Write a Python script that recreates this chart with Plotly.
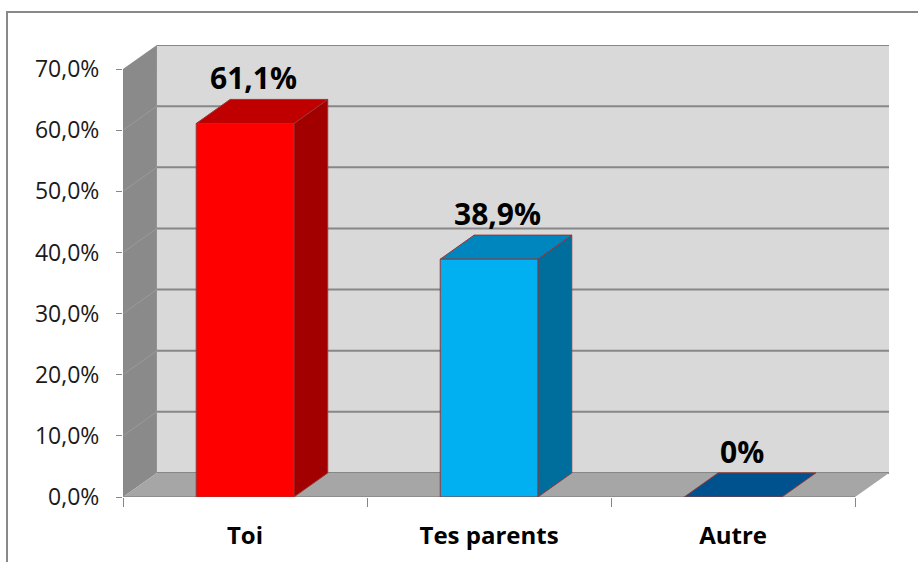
import plotly.graph_objects as go

# ---------------- data ----------------
categories = ["Toi", "Tes parents", "Autre"]
values = [61.1, 38.9, 0.0]
value_labels = ["61,1%", "38,9%", "0%"]
y_ticks = [0, 10, 20, 30, 40, 50, 60, 70]
y_tick_labels = ["0,0%", "10,0%", "20,0%", "30,0%", "40,0%", "50,0%", "60,0%", "70,0%"]

# ---------------- style ----------------
front_colors = ["#FF0000", "#00B0F0", "#0070C0"]
top_colors = ["#C00000", "#0086BE", "#00528F"]
side_colors = ["#A20000", "#006E9C", "#004A80"]
edge_color = "#953735"

DX = 0.139      # depth offset (category units)
DY = 3.94       # depth offset (% units)
BAR_W = 0.4
Y_TOP = 70
FONT = "Open Sans"

W, H = 918, 562
ML, MR, MT, MB = 123, 29, 45, 65

n = len(categories)
x_left, x_right = -0.5, n - 0.5

fig = go.Figure()


def poly(xs, ys, fill, line_color=None, line_width=0):
    fig.add_trace(go.Scatter(
        x=list(xs) + [xs[0]], y=list(ys) + [ys[0]],
        mode="lines", fill="toself", fillcolor=fill,
        line=dict(color=line_color or fill, width=line_width if line_color else 0),
        hoverinfo="skip", showlegend=False))


def seg(xs, ys, color, width):
    fig.add_trace(go.Scatter(x=xs, y=ys, mode="lines",
                             line=dict(color=color, width=width),
                             hoverinfo="skip", showlegend=False))


# back wall
poly([x_left + DX, x_right + DX, x_right + DX, x_left + DX],
     [DY, DY, Y_TOP + DY, Y_TOP + DY], "#D9D9D9")
# back wall gridlines
for v in y_ticks:
    seg([x_left + DX, x_right + DX], [v + DY, v + DY], "#878787", 2)
# left wall
poly([x_left, x_left + DX, x_left + DX, x_left],
     [0, DY, Y_TOP + DY, Y_TOP], "#8A8A8A")
for v in y_ticks[1:-1]:
    seg([x_left, x_left + DX], [v, v + DY], "#9A9A9A", 1)
seg([x_left, x_left], [0, Y_TOP], "#868686", 1)
# floor
poly([x_left, x_right, x_right + DX, x_left + DX],
     [0, 0, DY, DY], "#A6A6A6")
seg([x_left, x_right], [0, 0], "#868686", 1.5)

# bars
for i, v in enumerate(values):
    x0, x1 = i - BAR_W / 2, i + BAR_W / 2
    if v > 0:
        poly([x1, x1 + DX, x1 + DX, x1], [0, DY, v + DY, v],
             side_colors[i], edge_color, 1)
    poly([x0, x1, x1 + DX, x0 + DX], [v, v, v + DY, v + DY],
         top_colors[i], edge_color, 1)
    if v > 0:
        poly([x0, x1, x1, x0], [0, 0, v, v],
             front_colors[i], edge_color, 1)
    fig.add_annotation(x=i + DX * 0.25, y=v + DY, text=value_labels[i],
                       showarrow=False, yanchor="bottom", yshift=-1,
                       font=dict(family=FONT, size=30, color="#000000",
                                 weight="bold"))

plot_w = W - ML - MR
plot_h = H - MT - MB
px2paper_x = lambda px: (px - ML) / plot_w
px2paper_y = lambda py: (H - MB - py) / plot_h

fig.add_shape(type="path",
              path=f"M {px2paper_x(7)},{px2paper_y(H + 5)} L {px2paper_x(7)},{px2paper_y(12)} "
                   f"L {px2paper_x(W + 5)},{px2paper_y(12)}",
              xref="paper", yref="paper",
              line=dict(color="#898989", width=2))

fig.update_layout(
    width=W, height=H, autosize=False,
    margin=dict(l=ML, r=MR, t=MT, b=MB, autoexpand=False),
    paper_bgcolor="white", plot_bgcolor="white",
    separators=",.",
    showlegend=False,
    xaxis=dict(range=[x_left, x_right + DX], tickmode="array",
               tickvals=list(range(n)), ticktext=categories,
               ticks="", showgrid=False, zeroline=False, showline=False,
               automargin=False,
               tickfont=dict(family=FONT, size=24, color="#000000", weight="bold"),
               ticklabelstandoff=22,
               minor=dict(tickmode="array", tickvals=[k - 0.5 for k in range(n + 1)],
                          ticks="outside", ticklen=9, tickcolor="#868686",
                          tickwidth=1, showgrid=False),
               fixedrange=True),
    yaxis=dict(range=[0, Y_TOP + DY], tickmode="array", tickvals=y_ticks,
               ticktext=y_tick_labels, ticks="outside", ticklen=6,
               tickcolor="#868686", showgrid=False, zeroline=False,
               showline=False, automargin=False,
               tickfont=dict(family=FONT, size=23, color="#1A1A1A"),
               ticklabelstandoff=12, fixedrange=True),
)

fig.write_html("out.html", config={"displayModeBar": False},
               post_script="document.body.style.margin='0px';")
